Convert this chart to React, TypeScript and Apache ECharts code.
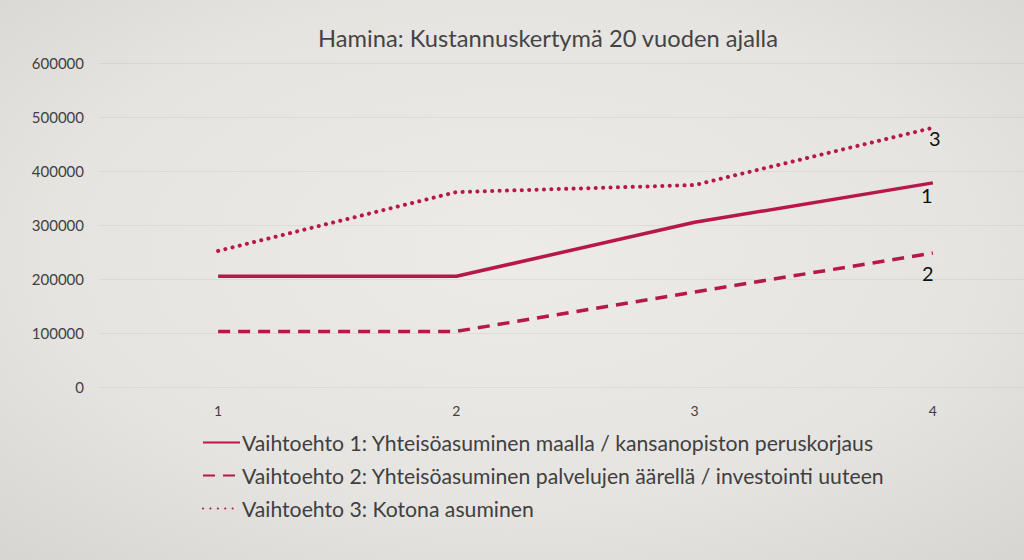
import React, { useEffect, useRef } from "react";
import * as echarts from "echarts";

const categories = ["1", "2", "3", "4"];
const seriesNames = [
  "Vaihtoehto 1: Yhteisöasuminen maalla / kansanopiston peruskorjaus",
  "Vaihtoehto 2: Yhteisöasuminen palvelujen äärellä / investointi uuteen",
  "Vaihtoehto 3: Kotona asuminen",
];
const option1 = [205000, 205000, 305000, 378000];
const option2 = [103000, 103000, 176000, 248000];
const option3 = [252000, 361000, 374000, 480000];
const endLabels = ["1", "2", "3"];

const RED = "#B7174B";
const FONT = "Lato, 'Open Sans', sans-serif";

function endLabel(text: string, offset: number[]) {
  return {
    show: true,
    formatter: text,
    distance: 0,
    align: "center",
    verticalAlign: "middle",
    offset,
    color: "#111",
    fontSize: 20,
    fontFamily: FONT,
  };
}

export default function App() {
  const ref = useRef<HTMLDivElement>(null);
  useEffect(() => {
    if (!ref.current) return;
    const chart = echarts.init(ref.current, undefined, { renderer: "svg" });
    chart.setOption({
      animation: false,
      backgroundColor: {
        type: "radial",
        x: 0.5,
        y: 0.45,
        r: 0.75,
        colorStops: [
          { offset: 0, color: "#ECEBE8" },
          { offset: 0.6, color: "#E6E4E1" },
          { offset: 1, color: "#D7D5D1" },
        ],
      },
      title: {
        text: "Hamina: Kustannuskertymä 20 vuoden ajalla",
        left: 543,
        textAlign: "center",
        top: 21,
        textStyle: { fontFamily: FONT, fontSize: 23.7, fontWeight: "normal", color: "#444" },
      },
      legend: {
        orient: "vertical",
        left: 202,
        top: 432,
        padding: 0,
        itemWidth: 37,
        itemHeight: 12,
        itemGap: 12,
        itemStyle: { opacity: 0 },
        textStyle: { fontFamily: FONT, fontSize: 21.2, color: "#404040", padding: [0, 0, 0, -3] },
        data: seriesNames,
      },
      grid: { left: 99, width: 953, top: 63, height: 324, outerBoundsMode: "none" },
      xAxis: {
        type: "category",
        data: categories,
        boundaryGap: true,
        axisLine: { show: false },
        axisTick: { show: false },
        axisLabel: { margin: 16, fontFamily: FONT, fontSize: 14, color: "#404040" },
      },
      yAxis: {
        type: "value",
        min: 0,
        max: 600000,
        interval: 100000,
        axisLine: { show: false },
        axisTick: { show: false },
        axisLabel: {
          margin: 15,
          fontFamily: FONT,
          fontSize: 15,
          color: "#404040",
          formatter: (v: number) => String(v),
        },
        splitLine: { lineStyle: { color: "rgba(0,0,0,0.05)", width: 1 } },
      },
      series: [
        {
          name: seriesNames[0],
          type: "line",
          symbol: "none",
          data: option1,
          lineStyle: { color: RED, width: 3.5 },
          itemStyle: { color: RED },
          endLabel: endLabel(endLabels[0], [-6, 12]),
        },
        {
          name: seriesNames[1],
          type: "line",
          symbol: "none",
          data: option2,
          lineStyle: { color: RED, width: 3.5, type: [12, 8] },
          itemStyle: { color: RED },
          endLabel: endLabel(endLabels[1], [-5, 20]),
        },
        {
          name: seriesNames[2],
          type: "line",
          symbol: "none",
          data: option3,
          lineStyle: { color: RED, width: 4, type: [0.1, 7.3], cap: "round" },
          itemStyle: { color: RED },
          endLabel: endLabel(endLabels[2], [2, 10]),
        },
      ],
    });
    return () => chart.dispose();
  }, []);
  return (
    <div
      ref={ref}
      style={{ position: "absolute", left: 0, top: 0, width: 1024, height: 560 }}
    />
  );
}
